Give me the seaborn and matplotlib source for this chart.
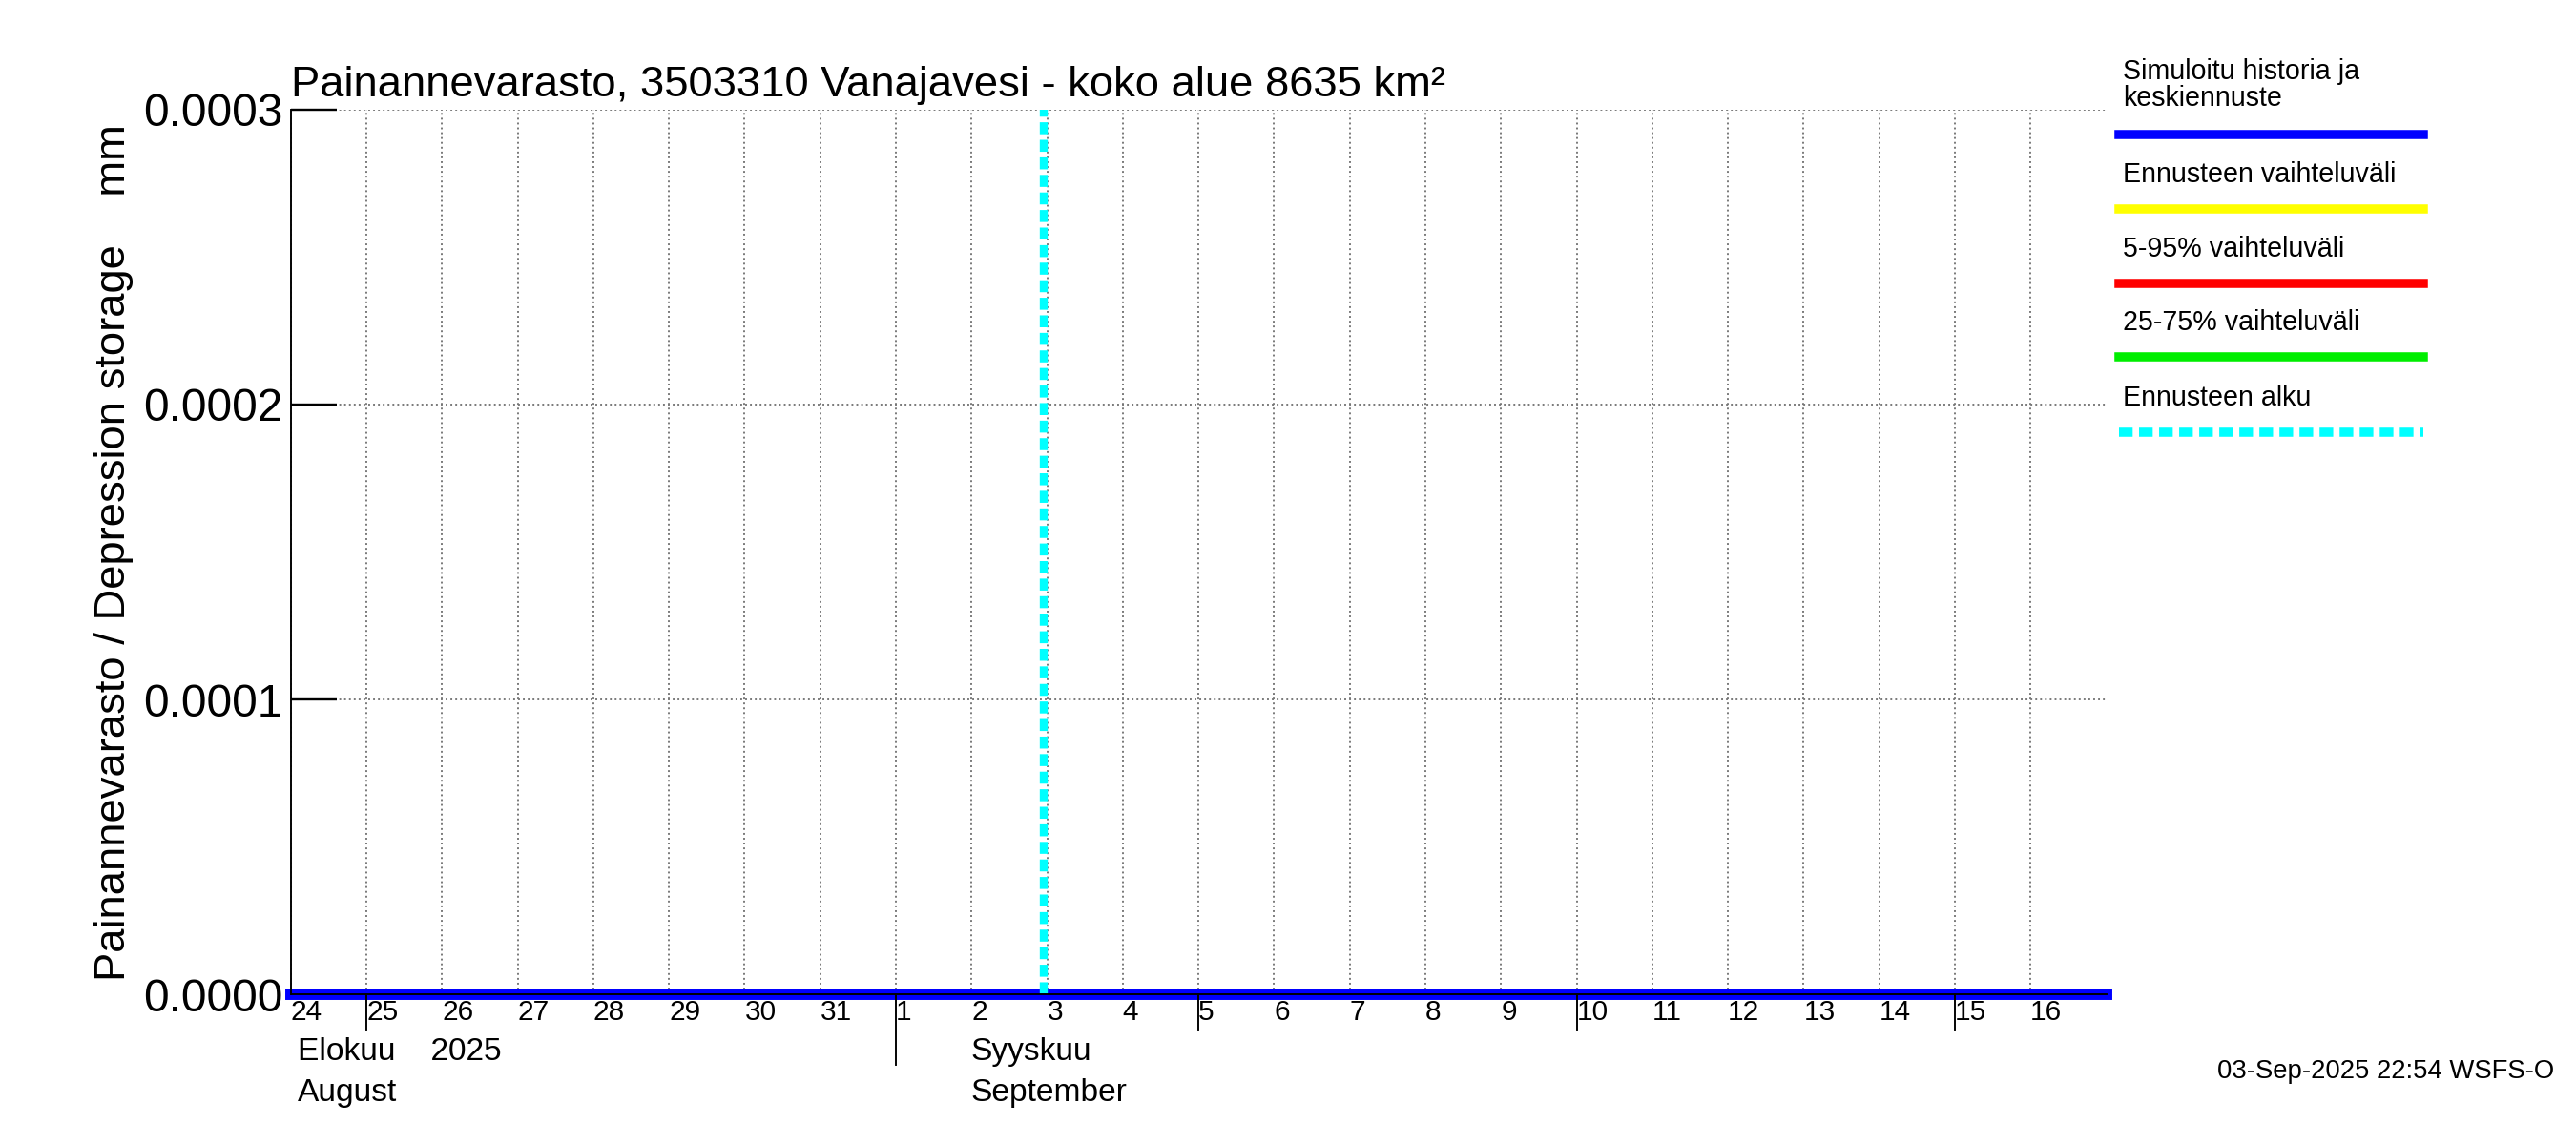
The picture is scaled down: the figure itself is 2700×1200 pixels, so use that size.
#!/usr/bin/env python3

import pandas as pd
import numpy as np
import seaborn as sns
import matplotlib.pyplot as plt
import matplotlib.dates as mdates

plt.rcParams['font.family'] = 'Liberation Sans'

# Data
dates = pd.date_range('2025-08-24', '2025-09-17', freq='D')
storage = [0.0] * len(dates)
forecast_start = pd.Timestamp('2025-09-02 23:00')
yticks = [0.0, 0.0001, 0.0002, 0.0003]
legend_labels = ['Simuloitu historia ja\nkeskiennuste', 'Ennusteen vaihteluväli',
                 '5-95% vaihteluväli', '25-75% vaihteluväli', 'Ennusteen alku']
legend_colors = ['#0000ff', '#ffff00', '#ff0000', '#00ee00', '#00ffff']

df = pd.DataFrame({'date': dates, 'value': storage})

fig = plt.figure(figsize=(2700/172, 1200/172), dpi=172)
ax = fig.add_axes([177/1568, 92/700, 1105/1568, 541/700])

sns.lineplot(data=df, x='date', y='value', ax=ax, color='#0000ff', linewidth=5, clip_on=False)
ax.axvline(forecast_start, color='#00ffff', linewidth=3.5, linestyle=(0, (1.5, 0.7)))

ax.set_xlim(pd.Timestamp('2025-08-24'), pd.Timestamp('2025-09-17'))
ax.set_ylim(0, 0.0003)
ax.set_yticks(yticks)
ax.set_yticklabels(['%.4f' % v for v in yticks], fontsize=20)
ax.yaxis.set_tick_params(length=20, direction='in', width=1)
ax.set_xticks(dates[:-1])
ax.xaxis.set_major_formatter(mdates.DateFormatter('%-d'))
ax.tick_params(axis='x', labelsize=12.5, length=0, pad=2)
for lbl in ax.get_xticklabels():
    lbl.set_horizontalalignment('left')
ax.grid(True, color='#777777', linestyle=':', linewidth=0.8)
ax.set_xlabel('')
ax.set_ylabel('Painannevarasto / Depression storage    mm', fontsize=19)
for s in ['top', 'right']:
    ax.spines[s].set_visible(False)
ax.set_title('Painannevarasto, 3503310 Vanajavesi - koko alue 8635 km²',
             fontsize=19, loc='left', pad=6)

# Month separator and 5-day marks
for d in ['2025-08-25', '2025-09-05', '2025-09-10', '2025-09-15']:
    ax.plot([mdates.date2num(pd.Timestamp(d))] * 2, [0, -0.04], transform=ax.get_xaxis_transform(),
            color='k', linewidth=0.8, clip_on=False)
ax.plot([mdates.date2num(pd.Timestamp('2025-09-01'))] * 2, [0, -0.08],
        transform=ax.get_xaxis_transform(), color='k', linewidth=0.8, clip_on=False)
fig.text(181/1568, 1 - 643/700, 'Elokuu    2025', fontsize=14, va='center')
fig.text(181/1568, 1 - 668/700, 'August', fontsize=14, va='center')
fig.text(591/1568, 1 - 643/700, 'Syyskuu', fontsize=14, va='center')
fig.text(591/1568, 1 - 668/700, 'September', fontsize=14, va='center')
fig.text(1555/1568, 1 - 655/700, '03-Sep-2025 22:54 WSFS-O', fontsize=11.5, ha='right', va='center')

# Legend
ys = [52, 107, 152, 197, 243]
for lab, col, y in zip(legend_labels, legend_colors, ys):
    fig.text(1292/1568, 1 - y/700, lab, fontsize=12, va='center', linespacing=1.0)
    ly = 1 - (y + (30 if '\n' in lab else 21)) / 700
    fig.add_artist(plt.Line2D([1290/1568, 1475/1568], [ly, ly], color=col, linewidth=4,
                              linestyle=(0, (1.5, 0.7)) if lab == 'Ennusteen alku' else '-'))

plt.savefig('out.png', dpi=172)
